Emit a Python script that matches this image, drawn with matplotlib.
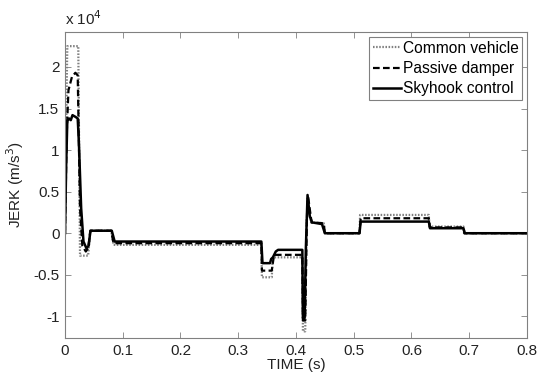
import matplotlib
matplotlib.use("Agg")
import matplotlib.pyplot as plt
from matplotlib.ticker import FixedLocator

plt.rcParams['font.family'] = ['Liberation Sans', 'DejaVu Sans']

# values in units of 1e4 m/s^3
t_common = [0, 0.003, 0.004, 0.023, 0.026, 0.040, 0.044, 0.080, 0.084, 0.340, 0.341,
            0.358, 0.360, 0.411, 0.412, 0.416, 0.418, 0.420, 0.426, 0.448, 0.450,
            0.510, 0.511, 0.630, 0.631, 0.690, 0.691, 0.8]
jerk_common = [0, 1.8, 2.25, 2.25, -0.27, -0.27, 0.03, 0.03, -0.14, -0.14, -0.53,
               -0.53, -0.29, -0.29, -1.18, -1.18, 0.0, 0.42, 0.13, 0.12, 0.0,
               0.0, 0.22, 0.22, 0.08, 0.08, 0.0, 0.0]

t_passive = [0, 0.003, 0.006, 0.012, 0.018, 0.022, 0.026, 0.030, 0.036, 0.040, 0.044,
             0.080, 0.084, 0.340, 0.341, 0.358, 0.362, 0.411, 0.412, 0.416, 0.419,
             0.421, 0.427, 0.448, 0.450, 0.510, 0.512, 0.630, 0.632, 0.690, 0.692, 0.8]
jerk_passive = [0, 1.2, 1.72, 1.88, 1.93, 1.9, 0.3, -0.15, -0.22, -0.18, 0.03,
                0.03, -0.12, -0.12, -0.45, -0.45, -0.26, -0.26, -1.05, -1.05, 0.2,
                0.44, 0.13, 0.12, 0.0, 0.0, 0.18, 0.18, 0.07, 0.07, 0.0, 0.0]

t_skyhook = [0, 0.002, 0.004, 0.007, 0.010, 0.013, 0.018, 0.022, 0.024, 0.028, 0.032,
             0.037, 0.041, 0.044, 0.081, 0.086, 0.340, 0.342, 0.355, 0.357, 0.360,
             0.365, 0.369, 0.411, 0.412, 0.415, 0.417, 0.420, 0.424, 0.428, 0.445,
             0.450, 0.510, 0.512, 0.630, 0.632, 0.690, 0.692, 0.8]
jerk_skyhook = [0, 0.8, 1.35, 1.38, 1.36, 1.42, 1.40, 1.38, 1.1, 0.3, -0.1,
                -0.18, -0.15, 0.03, 0.03, -0.1, -0.1, -0.36, -0.36, -0.31, -0.29,
                -0.22, -0.2, -0.2, -1.02, -1.02, -0.2, 0.46, 0.2, 0.13, 0.11,
                0.0, 0.0, 0.14, 0.14, 0.06, 0.06, 0.0, 0.0]

labels = ['Common vehicle', 'Passive damper', 'Skyhook control']
xticks = [0, 0.1, 0.2, 0.3, 0.4, 0.5, 0.6, 0.7, 0.8]
xticklabels = ['0', '0.1', '0.2', '0.3', '0.4', '0.5', '0.6', '0.7', '0.8']
yticks = [-1, -0.5, 0, 0.5, 1, 1.5, 2]
yticklabels = ['-1', '-0.5', '0', '0.5', '1', '1.5', '2']

fig = plt.figure(figsize=(5.43, 3.74), dpi=100)
ax = fig.add_axes([0.1197, 0.0963, 0.8508, 0.8181])

ax.plot(t_common, jerk_common, linestyle=(0, (0.7, 0.7)), color='#808080', lw=1.6, label=labels[0])
ax.plot(t_passive, jerk_passive, linestyle='--', color='black', lw=1.6, dashes=(3, 1.5), label=labels[1])
ax.plot(t_skyhook, jerk_skyhook, linestyle='-', color='black', lw=1.8, label=labels[2])

ax.set_xlim(0, 0.8)
ax.set_ylim(-1.26, 2.42)
ax.xaxis.set_major_locator(FixedLocator(xticks))
ax.set_xticklabels(xticklabels)
ax.yaxis.set_major_locator(FixedLocator(yticks))
ax.set_yticklabels(yticklabels)
ax.tick_params(direction='in', top=True, right=True, length=4, width=0.6,
               colors='#808080', labelcolor='#222222', labelsize=11, pad=4)
for s in ax.spines.values():
    s.set_color('#808080')
    s.set_linewidth(0.8)

ax.set_xlabel('TIME (s)', fontsize=11, color='#222222', labelpad=0)
ax.set_ylabel('JERK (m/s$^3$)', fontsize=11, color='#222222', labelpad=5)
ax.text(0.0, 1.012, 'x 10$^4$', transform=ax.transAxes, fontsize=11,
        color='#222222', ha='left', va='bottom')

leg = ax.legend(loc='upper right', fontsize=11.2, handlelength=1.8, handletextpad=0.1,
                borderpad=0.25, labelspacing=0.35, borderaxespad=0.3, fancybox=False,
                framealpha=1, edgecolor='#808080')
leg.get_frame().set_linewidth(0.8)

fig.savefig('out.png', dpi=100)
